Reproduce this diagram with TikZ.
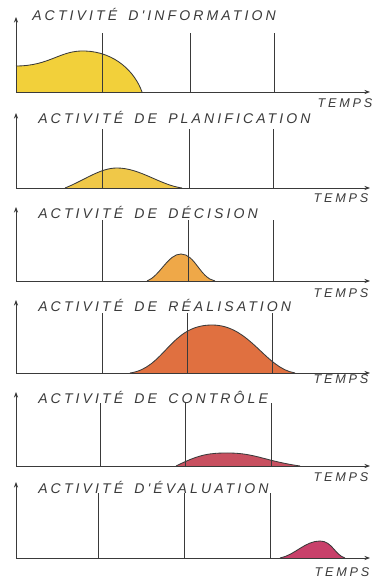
\documentclass[tikz,border=0pt]{standalone}
\usepackage{fontspec}
\newfontfamily\mainhand[LetterSpace=22, WordSpace=1.6]{Liberation Sans}
\usetikzlibrary{arrows.meta}

\definecolor{jauneinfo}{HTML}{F2D03A}
\definecolor{jauneplan}{HTML}{F0C848}
\definecolor{orangedec}{HTML}{EFA848}
\definecolor{rougereal}{HTML}{E07040}
\definecolor{rougectrl}{HTML}{C85060}
\definecolor{rougeeval}{HTML}{C8406A}
\definecolor{trait}{HTML}{3A3A3A}

\tikzset{
  axe/.style={-{Stealth[length=4pt,width=3pt]}, draw=trait, line width=0.6pt},
  repere/.style={draw=trait, line width=0.6pt},
  courbe/.style={draw=trait, line width=0.6pt},
  titre/.style={anchor=west, inner sep=0pt, text=trait, font=\mainhand\itshape\fontsize{10}{11}\selectfont},
  temps/.style={inner sep=0pt, text=trait, font=\mainhand\itshape\fontsize{9}{10}\selectfont}
}

\begin{document}
\begin{tikzpicture}[x=0.025cm, y=0.025cm]
\useasboundingbox (0,0) rectangle (375,578);

% Information
\begin{scope}[shift={(0,486)}]
\fill[jauneinfo] (16,0) -- (16,26) .. controls (50,26) and (60,42) .. (85,41)
                 .. controls (115,40) and (135,20) .. (142,0) -- cycle;
\draw[courbe] (16,26) .. controls (50,26) and (60,42) .. (85,41)
              .. controls (115,40) and (135,20) .. (142,0);
\foreach \x in {102,190,274} \draw[repere] (\x,0) -- (\x,59);
\draw[axe] (16,0) -- (370,0);
\draw[axe] (16,0) -- (16,75);
\node[titre] (info) at (32,78) {ACTIVITÉ D'INFORMATION};
\node[temps] (t1) at (345,-11) {TEMPS};
\end{scope}

% Planification
\begin{scope}[shift={(0,390)}]
\filldraw[courbe, fill=jauneplan] (65,0) .. controls (85,8) and (100,20) .. (117,20)
                 .. controls (140,20) and (160,3) .. (182,0);
\foreach \x in {102,189,273} \draw[repere] (\x,0) -- (\x,59);
\draw[axe] (16,0) -- (370,0);
\draw[axe] (16,0) -- (16,75);
\node[titre] (plan) at (38,71) {ACTIVITÉ DE PLANIFICATION};
\node[temps] (t2) at (341,-10) {TEMPS};
\end{scope}

% Decision
\begin{scope}[shift={(0,297)}]
\filldraw[courbe, fill=orangedec] (147,0) .. controls (160,5) and (168,27) .. (181,27)
                 .. controls (195,27) and (200,3) .. (215,0);
\foreach \x in {102,188,273} \draw[repere] (\x,0) -- (\x,61);
\draw[axe] (16,0) -- (370,0);
\draw[axe] (16,0) -- (16,74);
\node[titre] (dec) at (38,69) {ACTIVITÉ DE DÉCISION};
\node[temps] (t3) at (341,-12) {TEMPS};
\end{scope}

% Realisation
\begin{scope}[shift={(0,205)}]
\filldraw[courbe, fill=rougereal] (130,0) .. controls (165,5) and (170,48) .. (212,48)
                 .. controls (250,48) and (265,5) .. (295,0);
\foreach \x in {102,187,272} \draw[repere] (\x,0) -- (\x,60);
\draw[axe] (16,0) -- (370,0);
\draw[axe] (16,0) -- (16,73);
\node[titre] (real) at (38,68) {ACTIVITÉ DE RÉALISATION};
\node[temps] (t4) at (341,-6) {TEMPS};
\end{scope}

% Controle
\begin{scope}[shift={(0,112)}]
\filldraw[courbe, fill=rougectrl] (176,0) .. controls (200,12) and (210,13) .. (228,13)
                 .. controls (255,13) and (265,5) .. (300,0);
\foreach \x in {100,185,271} \draw[repere] (\x,0) -- (\x,63);
\draw[axe] (16,0) -- (370,0);
\draw[axe] (16,0) -- (16,74);
\node[titre] (ctrl) at (38,69) {ACTIVITÉ DE CONTRÔLE};
\node[temps] (t5) at (341,-11) {TEMPS};
\end{scope}

% Evaluation
\begin{scope}[shift={(0,20)}]
\filldraw[courbe, fill=rougeeval] (280,0) .. controls (295,3) and (305,17) .. (320,17)
                 .. controls (332,17) and (335,3) .. (345,0);
\foreach \x in {98,184,270} \draw[repere] (\x,0) -- (\x,65);
\draw[axe] (16,0) -- (370,0);
\draw[axe] (16,0) -- (16,76);
\node[titre] (eval) at (38,71) {ACTIVITÉ D'ÉVALUATION};
\node[temps] (t6) at (342,-14) {TEMPS};
\end{scope}
\end{tikzpicture}
\end{document}
